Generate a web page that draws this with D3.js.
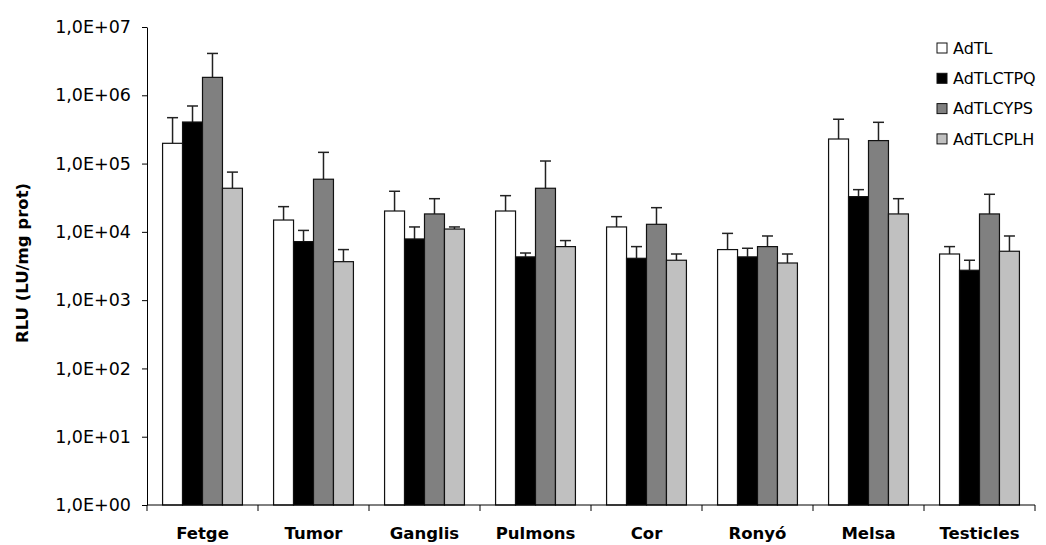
<!DOCTYPE html>
<html>
<head>
<meta charset="utf-8">
<script src="https://cdn.jsdelivr.net/npm/d3@7/dist/d3.min.js"></script>
<style>
  html, body { margin: 0; padding: 0; background: #fff; }
  svg { display: block; }
  text { font-family: "DejaVu Sans", Verdana, sans-serif; fill: #000; }
</style>
</head>
<body>
<svg id="chart" width="1046" height="545"></svg>
<script>
// Tissues (x categories)
const categories = ["Fetge", "Tumor", "Ganglis", "Pulmons", "Cor", "Ronyó", "Melsa", "Testicles"];
// Vectors (series)
const seriesNames = ["AdTL", "AdTLCTPQ", "AdTLCYPS", "AdTLCPLH"];
const seriesColors = ["#ffffff", "#000000", "#808080", "#c0c0c0"];

// Mean RLU per tissue, one array per vector
const meanAdTL     = [1.98e5, 1.49e4, 2.02e4, 2.02e4, 1.18e4, 5.5e3, 2.29e5, 4.74e3];
const meanAdTLCTPQ = [4.06e5, 7.2e3, 7.87e3, 4.3e3, 4.1e3, 4.3e3, 3.28e4, 2.74e3];
const meanAdTLCYPS = [1.83e6, 5.9e4, 1.83e4, 4.35e4, 1.29e4, 6.08e3, 2.17e5, 1.83e4];
const meanAdTLCPLH = [4.35e4, 3.66e3, 1.1e4, 6.08e3, 3.84e3, 3.5e3, 1.83e4, 5.2e3];

// Standard deviation (upper error bar) per tissue
const sdAdTL     = [2.72e5, 8.5e3, 1.91e4, 1.37e4, 4.9e3, 4.0e3, 2.17e5, 1.34e3];
const sdAdTLCTPQ = [2.91e5, 3.3e3, 3.93e3, 6.0e2, 1.98e3, 1.45e3, 8.7e3, 1.1e3];
const sdAdTLCYPS = [2.27e6, 8.7e4, 1.23e4, 6.55e4, 9.7e3, 2.62e3, 1.85e5, 1.72e4];
const sdAdTLCPLH = [3.15e4, 1.84e3, 8.0e2, 1.37e3, 9.0e2, 1.24e3, 1.23e4, 3.5e3];

// Log axis ticks
const yTicks = [1, 10, 100, 1e3, 1e4, 1e5, 1e6, 1e7];

const means = [meanAdTL, meanAdTLCTPQ, meanAdTLCYPS, meanAdTLCPLH];
const sds = [sdAdTL, sdAdTLCTPQ, sdAdTLCYPS, sdAdTLCPLH];

const svg = d3.select("#chart");
const plot = { left: 147, right: 1035, top: 27, bottom: 505 };

const x = d3.scaleBand().domain(categories).range([plot.left, plot.right]).paddingInner(0).paddingOuter(0);
const inner = d3.scaleBand().domain(seriesNames).range([0, x.bandwidth()]).paddingInner(0).paddingOuter(0.78);
const y = d3.scaleLog().domain([1, 1e7]).range([plot.bottom, plot.top]);

const fmt = v => "1,0E+" + String(Math.round(Math.log10(v))).padStart(2, "0");

// Bars and error bars
const rows = [];
categories.forEach((c, i) => {
  seriesNames.forEach((s, k) => {
    rows.push({ cat: c, series: s, k, mean: means[k][i], sd: sds[k][i] });
  });
});

const g = svg.append("g");
const bw = inner.bandwidth();

// Error bars (upper only), drawn under the bars
const err = g.append("g").attr("stroke", "#222").attr("stroke-width", 1.5);
rows.forEach(d => {
  const cx = x(d.cat) + inner(d.series) + bw / 2;
  err.append("line").attr("x1", cx).attr("x2", cx)
    .attr("y1", y(d.mean)).attr("y2", y(d.mean + d.sd));
  err.append("line").attr("x1", cx - 5.5).attr("x2", cx + 5.5)
    .attr("y1", y(d.mean + d.sd)).attr("y2", y(d.mean + d.sd));
});

g.append("g").selectAll("rect").data(rows).join("rect")
  .attr("x", d => x(d.cat) + inner(d.series))
  .attr("width", bw)
  .attr("y", d => y(d.mean))
  .attr("height", d => y(1) - y(d.mean))
  .attr("fill", d => seriesColors[d.k])
  .attr("stroke", "#111")
  .attr("stroke-width", 1.2);

// Y axis
const yAxis = svg.append("g").attr("transform", `translate(${plot.left},0)`)
  .call(d3.axisLeft(y).tickValues(yTicks).tickFormat(fmt).tickSize(5).tickSizeOuter(0).tickPadding(11));
yAxis.select(".domain").attr("stroke", "#000");
yAxis.selectAll(".tick line").attr("stroke", "#000");
yAxis.selectAll(".tick text").style("font-size", "17.5px").attr("font-family", null);

// X axis (ticks between categories)
const xAxisG = svg.append("g").attr("transform", `translate(0,${plot.bottom})`);
xAxisG.append("line").attr("x1", plot.left).attr("x2", plot.right).attr("stroke", "#000");
const bounds = categories.map(c => x(c)).concat([x(categories[categories.length - 1]) + x.bandwidth()]);
xAxisG.selectAll("line.tk").data(bounds).join("line").attr("class", "tk")
  .attr("x1", d => d).attr("x2", d => d).attr("y1", 0).attr("y2", 6).attr("stroke", "#000");
xAxisG.selectAll("text").data(categories).join("text")
  .attr("x", d => x(d) + x.bandwidth() / 2)
  .attr("y", 34)
  .attr("text-anchor", "middle")
  .style("font-size", "16.5px")
  .style("font-weight", "bold")
  .text(d => d);

// Y axis title
svg.append("text")
  .attr("transform", "translate(28,263) rotate(-90)")
  .attr("text-anchor", "middle")
  .style("font-size", "16.5px")
  .style("font-weight", "bold")
  .text("RLU (LU/mg prot)");

// Legend
const legend = svg.append("g").attr("transform", "translate(937,48)");
seriesNames.forEach((s, k) => {
  const row = legend.append("g").attr("transform", `translate(0,${k * 30.3})`);
  row.append("rect").attr("x", 0).attr("y", -5).attr("width", 10).attr("height", 10)
    .attr("fill", seriesColors[k]).attr("stroke", "#111").attr("stroke-width", 1);
  row.append("text").attr("x", 16).attr("y", 0).attr("dy", "0.36em")
    .style("font-size", "16px").text(s);
});
</script>
</body>
</html>
